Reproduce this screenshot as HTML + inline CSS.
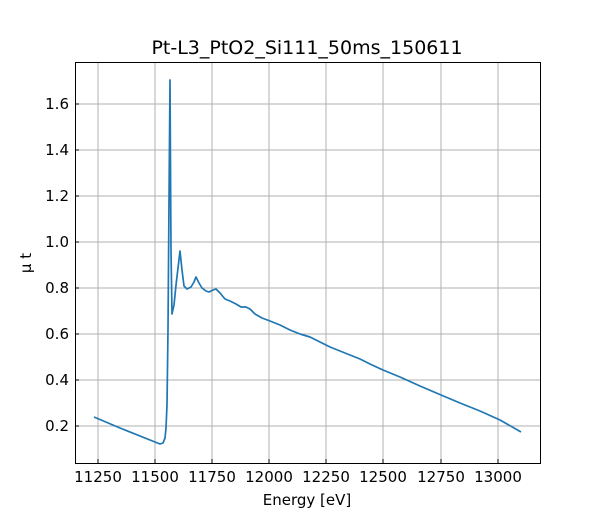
<!DOCTYPE html>
<html><head><style>body{margin:0;background:#fff}svg{display:block}text{font-family:"DejaVu Sans","Liberation Sans",sans-serif;fill:#000}</style></head><body>
<svg width="600" height="520" xmlns="http://www.w3.org/2000/svg">
<g stroke="#b0b0b0" stroke-width="1">
<line x1="98" y1="62" x2="98" y2="463"/><line x1="155" y1="62" x2="155" y2="463"/><line x1="212" y1="62" x2="212" y2="463"/><line x1="269" y1="62" x2="269" y2="463"/><line x1="326" y1="62" x2="326" y2="463"/><line x1="383" y1="62" x2="383" y2="463"/><line x1="441" y1="62" x2="441" y2="463"/><line x1="498" y1="62" x2="498" y2="463"/>
<line x1="75" y1="426" x2="540" y2="426"/><line x1="75" y1="380" x2="540" y2="380"/><line x1="75" y1="334" x2="540" y2="334"/><line x1="75" y1="288" x2="540" y2="288"/><line x1="75" y1="242" x2="540" y2="242"/><line x1="75" y1="196" x2="540" y2="196"/><line x1="75" y1="150" x2="540" y2="150"/><line x1="75" y1="104" x2="540" y2="104"/>
</g>
<polyline fill="none" stroke="#1f77b4" stroke-width="1.7" stroke-linejoin="round" points="94,417 120,428 155,442 160,444 163,443 165,438 166,428 167,405 168,330 169,200 170,80 171,250 172,314 174,305 176,285 178,268 180,251 182,270 184,286 187,289 191,287 194,282 196,277 199,283 202,288 206,291 209,292 213,290 216,289 220,293 225,299 230,301 236,304 241,307 246,307 250,309 255,314 262,318 270,321 280,325 290,330 300,334 310,337 320,342 330,347 340,351 350,355 360,359 370,364 383,370 400,377 420,386 441,395 460,403 480,411 500,420 521,432"/>
<rect x="75.5" y="62.5" width="465" height="401" fill="none" stroke="#000" stroke-width="1"/>
<g stroke="#000" stroke-width="1">
<line x1="98" y1="463" x2="98" y2="459"/><line x1="155" y1="463" x2="155" y2="459"/><line x1="212" y1="463" x2="212" y2="459"/><line x1="269" y1="463" x2="269" y2="459"/><line x1="326" y1="463" x2="326" y2="459"/><line x1="383" y1="463" x2="383" y2="459"/><line x1="441" y1="463" x2="441" y2="459"/><line x1="498" y1="463" x2="498" y2="459"/>
<line x1="75" y1="426" x2="79" y2="426"/><line x1="75" y1="380" x2="79" y2="380"/><line x1="75" y1="334" x2="79" y2="334"/><line x1="75" y1="288" x2="79" y2="288"/><line x1="75" y1="242" x2="79" y2="242"/><line x1="75" y1="196" x2="79" y2="196"/><line x1="75" y1="150" x2="79" y2="150"/><line x1="75" y1="104" x2="79" y2="104"/>
</g>
<g font-size="15" text-anchor="middle">
<text x="98" y="482">11250</text><text x="155" y="482">11500</text><text x="212" y="482">11750</text><text x="269" y="482">12000</text><text x="326" y="482">12250</text><text x="383" y="482">12500</text><text x="441" y="482">12750</text><text x="498" y="482">13000</text>
</g>
<g font-size="15" text-anchor="end">
<text x="69" y="431">0.2</text><text x="69" y="385">0.4</text><text x="69" y="339">0.6</text><text x="69" y="293">0.8</text><text x="69" y="247">1.0</text><text x="69" y="201">1.2</text><text x="69" y="155">1.4</text><text x="69" y="109">1.6</text>
</g>
<text x="307" y="505" font-size="15" text-anchor="middle">Energy [eV]</text>
<text transform="translate(31,263) rotate(-90)" font-size="15" text-anchor="middle">μ t</text>
<text x="307" y="54" font-size="19" text-anchor="middle">Pt-L3_PtO2_Si111_50ms_150611</text>
</svg>
</body></html>
